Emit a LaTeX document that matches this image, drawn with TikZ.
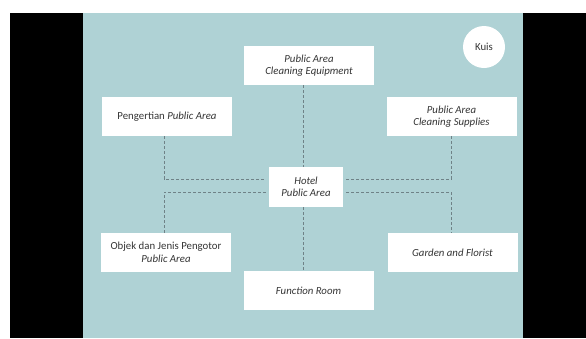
\documentclass[tikz,border=0pt]{standalone}
\usepackage{fontspec}
\setmainfont{Carlito}
\usetikzlibrary{calc}
\definecolor{teal1}{HTML}{AFD2D5}
\definecolor{txt}{HTML}{353535}
\definecolor{dash1}{HTML}{6F8287}
\tikzset{
  boxn/.style={fill=white, draw=none, minimum width=130pt, minimum height=39pt, inner sep=0pt, align=center, text=txt, font=\fontsize{10.8}{12.5}\selectfont},
  conn/.style={draw=dash1, line width=0.7pt, dash pattern=on 3pt off 2pt}
}
\begin{document}
\begin{tikzpicture}[x=1pt,y=-1pt]
\useasboundingbox (0,0) rectangle (586,338);
\fill[white] (0,0) rectangle (586,338);
\fill[black] (10,13) rectangle (586,338);
\fill[teal1] (83,13) rectangle (523,338);
\node[boxn] (eq) at (309,65.5) {\itshape Public Area\\\itshape Cleaning Equipment};
\node[boxn] (pen) at (167,116.5) {Pengertian \textit{Public Area}};
\node[boxn] (sup) at (451.5,116.5) {\itshape Public Area\\\itshape Cleaning Supplies};
\node[boxn, minimum width=74pt, minimum height=40pt] (hotel) at (306,187) {\itshape Hotel\\\itshape Public Area};
\node[boxn] (obj) at (166,252.5) {Objek dan Jenis Pengotor\\\textit{Public Area}};
\node[boxn] (fun) at (308.5,290.5) {\itshape Function Room};
\node[boxn] (gar) at (452.5,252.5) {\itshape Garden and Florist};
\node[circle, fill=white, minimum size=42pt, inner sep=0pt, text=txt, font=\fontsize{10.8}{12.5}\selectfont] (kuis) at (484,47) {Kuis};
\coordinate (vx) at (303,0);
\coordinate (lx) at (164,0);
\coordinate (rx) at (451,0);
\coordinate (ya) at (0,179);
\coordinate (yb) at (0,192);
\draw[conn] (eq.south -| vx) -- (hotel.north -| vx);
\draw[conn] (hotel.south -| vx) -- (fun.north -| vx);
\draw[conn] (pen.south -| lx) |- ([xshift=-3pt]hotel.west |- ya);
\draw[conn] ([xshift=-3pt]hotel.west |- yb) -| (obj.north -| lx);
\draw[conn] (sup.south -| rx) |- ([xshift=3pt]hotel.east |- ya);
\draw[conn] ([xshift=3pt]hotel.east |- yb) -| (gar.north -| rx);
\end{tikzpicture}
\end{document}
